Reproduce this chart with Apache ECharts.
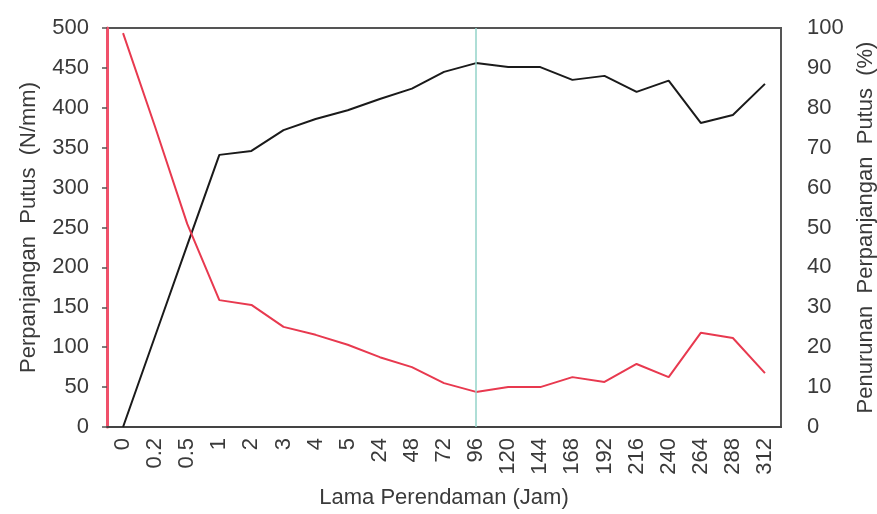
<!DOCTYPE html>
<html>
<head>
<meta charset="utf-8">
<script src="https://cdn.jsdelivr.net/npm/echarts@6/dist/echarts.min.js"></script>
<style>
  html, body { margin: 0; padding: 0; background: #fff; }
  #chart { width: 877px; height: 514px; }
</style>
</head>
<body>
<div id="chart"></div>
<script>
// Soaking time categories (hours)
const categories = ['0', '0.2', '0.5', '1', '2', '3', '4', '5', '24', '48', '72', '96',
  '120', '144', '168', '192', '216', '240', '264', '288', '312'];

// Elongation at break (N/mm), left axis
const elongation = [0, 114, 228, 341, 346, 372, 386, 397, 411, 424, 445, 456,
  451, 451, 435, 440, 420, 434, 381, 391, 430];

// Decrease in elongation at break (%), right axis
const decrease = [98.7, 75.2, 50.9, 31.8, 30.6, 25.1, 23.1, 20.6, 17.5, 15.0, 11.0, 8.8,
  10.0, 10.0, 12.5, 11.3, 15.8, 12.5, 23.6, 22.3, 13.5];

const leftTicks = { min: 0, max: 500, interval: 50 };
const rightTicks = { min: 0, max: 100, interval: 10 };
const markerCategory = '96';

const FONT = '"Liberation Sans", Arial, sans-serif';
const TEXT = '#3a3a3a';

const chart = echarts.init(document.getElementById('chart'));
chart.setOption({
  animation: false,
  backgroundColor: '#fff',
  grid: {
    left: 107, right: 96, top: 28, bottom: 87,
    containLabel: false,
    outerBoundsMode: 'none',
    show: true, borderColor: '#555', borderWidth: 2
  },
  xAxis: {
    type: 'category',
    data: categories,
    name: 'Lama Perendaman (Jam)',
    nameLocation: 'middle',
    nameGap: 60,
    nameTextStyle: { fontFamily: FONT, fontSize: 22, color: TEXT },
    axisLine: { lineStyle: { color: '#444', width: 2 } },
    axisTick: { inside: true, length: 5, lineStyle: { color: '#444', width: 1.5 } },
    axisLabel: { rotate: 90, margin: 11, fontFamily: FONT, fontSize: 22, color: TEXT, interval: 0 },
    splitLine: { show: false }
  },
  yAxis: [
    {
      type: 'value',
      position: 'left',
      min: leftTicks.min, max: leftTicks.max, interval: leftTicks.interval,
      name: 'Perpanjangan  Putus  (N/mm)',
      nameLocation: 'middle',
      nameRotate: 90,
      nameGap: 67,
      nameTextStyle: { fontFamily: FONT, fontSize: 22, color: TEXT },
      axisLine: { show: true, lineStyle: { color: '#f0506a', width: 3 } },
      axisTick: { show: true, length: 5, lineStyle: { color: '#555', width: 1.5 } },
      axisLabel: { margin: 18, fontFamily: FONT, fontSize: 22, color: TEXT },
      splitLine: { show: false }
    },
    {
      type: 'value',
      position: 'right',
      min: rightTicks.min, max: rightTicks.max, interval: rightTicks.interval,
      name: 'Penurunan  Perpanjangan  Putus  (%)',
      nameLocation: 'middle',
      nameRotate: 90,
      nameGap: 59,
      nameTextStyle: { fontFamily: FONT, fontSize: 22, color: TEXT },
      axisLine: { show: true, lineStyle: { color: '#555', width: 2 } },
      axisTick: { show: false },
      axisLabel: { margin: 26, fontFamily: FONT, fontSize: 22, color: TEXT },
      splitLine: { show: false }
    }
  ],
  series: [
    {
      name: 'Perpanjangan Putus',
      type: 'line',
      yAxisIndex: 0,
      data: elongation,
      showSymbol: false,
      lineStyle: { color: '#1a1a1a', width: 2 },
      itemStyle: { color: '#1a1a1a' },
      markLine: {
        silent: true,
        symbol: ['none', 'none'],
        label: { show: false },
        lineStyle: { color: '#93d3c9', width: 1.5, type: 'solid' },
        data: [{ xAxis: markerCategory }]
      },
      z: 3
    },
    {
      name: 'Penurunan Perpanjangan Putus',
      type: 'line',
      yAxisIndex: 1,
      data: decrease,
      showSymbol: false,
      lineStyle: { color: '#e8394f', width: 2 },
      itemStyle: { color: '#e8394f' },
      z: 4
    }
  ]
});
</script>
</body>
</html>
